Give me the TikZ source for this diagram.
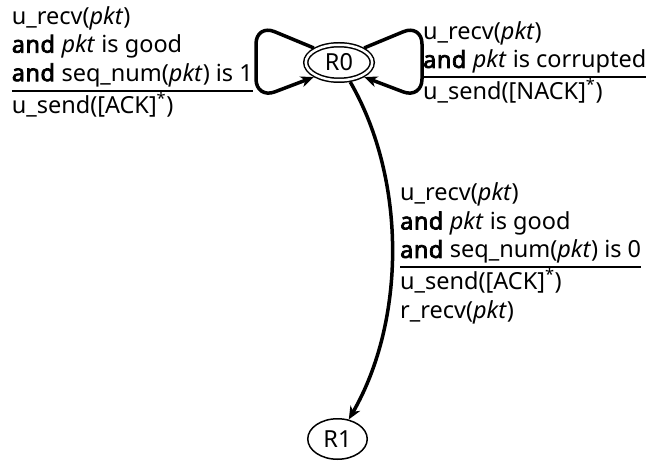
\documentclass[tikz,border=0pt]{standalone}
\usepackage{fontspec}
\setmainfont{Noto Sans}[BoldFont={Noto Sans},BoldFeatures={FakeBold=3,LetterSpace=2}]
\usepackage{tikz}
\usetikzlibrary{arrows.meta,shapes.geometric}
\setlength{\arrayrulewidth}{2pt}
\newcommand{\pk}{\textit{pkt}}
\tikzset{
  st/.style={draw,ellipse,line width=1.5pt,inner sep=1pt,minimum width=59.5pt,minimum height=40.5pt,font=\fontsize{23.5}{28.5}\selectfont},
  acc/.style={st,double,double distance=2.5pt,minimum width=66.5pt,minimum height=35.5pt,outer sep=2.75pt},
  arr/.style={-{Stealth[length=13pt,width=11pt,inset=4pt]},line width=3.5pt},
  lbl/.style={inner sep=0pt,font=\fontsize{23.5}{28.5}\selectfont},
}

\begin{document}
\begin{tikzpicture}[x=1pt,y=1pt]
  \useasboundingbox (0,0) rectangle (653,461);
  \node[acc] (r0) at (339,398.5) {R0};
  \node[st] (r1) at (337.5,22) {R1};
  % corners of the two self loops
  \coordinate (lt) at (256,437);
  \coordinate (lb) at (256,362);
  \coordinate (rt) at (422,437);
  \coordinate (rb) at (422,362);
  \draw[arr,rounded corners=20pt] (r0.150) -- (lt) -- (lb) -- (r0.210);
  \draw[arr,rounded corners=20pt] (r0.30) -- (rt) -- (rb) -- (r0.-30);
  \draw[arr] (r0) to[out=-60,in=60,looseness=0.86] (r1);
  % guards / actions
  \node[lbl,anchor=east] (lgood) at (253,398) {\begin{tabular}{@{}l@{}}
    u\_recv(\pk)\\
    \textbf{and} \pk{} is good\\
    \textbf{and} seq\_num(\pk) is 1\\\hline
    u\_send([ACK]\textsuperscript{*})\end{tabular}};
  \node[lbl,anchor=west] (lcorr) at (423,397) {\begin{tabular}{@{}l@{}}
    u\_recv(\pk)\\
    \textbf{and} \pk{} is corrupted\\\hline
    u\_send([NACK]\textsuperscript{*})\end{tabular}};
  \node[lbl,anchor=west] (lnext) at (400,207) {\begin{tabular}{@{}l@{}}
    u\_recv(\pk)\\
    \textbf{and} \pk{} is good\\
    \textbf{and} seq\_num(\pk) is 0\\\hline
    u\_send([ACK]\textsuperscript{*})\\
    r\_recv(\pk)\end{tabular}};
\end{tikzpicture}
\end{document}
